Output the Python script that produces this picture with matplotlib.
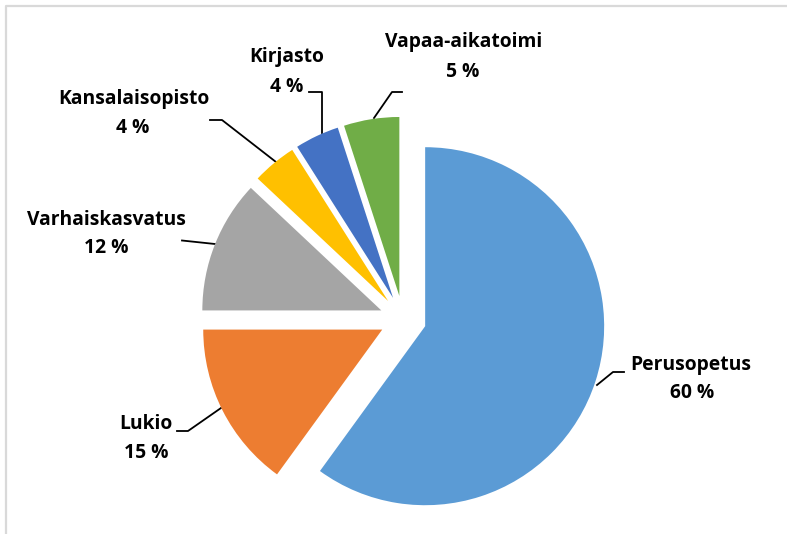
import matplotlib
matplotlib.use("Agg")
import matplotlib.pyplot as plt
from matplotlib.lines import Line2D

categories = ["Perusopetus", "Lukio", "Varhaiskasvatus", "Kansalaisopisto", "Kirjasto", "Vapaa-aikatoimi"]
values = [60, 15, 12, 4, 4, 5]
pct_labels = ["60 %", "15 %", "12 %", "4 %", "4 %", "5 %"]
colors = ["#5B9BD5", "#ED7D31", "#A5A5A5", "#FFC000", "#4472C4", "#70AD47"]

W, H = 787, 534
fig = plt.figure(figsize=(W / 100, H / 100), dpi=100)
ax = fig.add_axes([0, 0, 1, 1])
ax.set_xlim(0, W)
ax.set_ylim(H, 0)
ax.axis("off")

# frame (cropped chart area border)
ax.add_line(Line2D([6, 6, W + 5], [H + 5, 6, 6], color="#D9D9D9", lw=1.6))

# pie: own coordinate system in pixels (y up)
pax = fig.add_axes([0, 0, 1, 1])
cx, cy, r = 403, H - 319, 179
pax.pie(values, colors=colors, startangle=90, counterclock=False,
        explode=[23.3] * len(values), center=(cx, cy), radius=r,
        wedgeprops=dict(linewidth=0), frame=True)
pax.set_xlim(0, W)
pax.set_ylim(0, H)
pax.set_aspect("auto")
pax.axis("off")

font = dict(family="Open Sans", fontweight="bold", fontsize=13.9, color="black")

# label positions (image pixel coords, y down): name line center, pct line center
label_pos = [
    (691, 365, 692, 393),
    (146, 424, 146, 453),
    (106, 220, 106, 248),
    (134, 99, 133, 128),
    (287, 57, 287, 87),
    (464, 42, 463, 72),
]
leaders = [
    ([597, 613, 624], [385, 372, 372]),
    ([177, 188, 221], [431, 431, 408]),
    ([182, 215], [240.5, 244]),
    ([210, 222, 276], [120, 120, 162]),
    ([309, 322, 322], [92, 92, 133]),
    ([374, 392, 402], [118, 92, 92]),
]
for name, pct, (x1, y1, x2, y2), (lx, ly) in zip(categories, pct_labels, label_pos, leaders):
    ax.text(x1, y1, name, ha="center", va="center", **font)
    ax.text(x2, y2, pct, ha="center", va="center", **font)
    ax.add_line(Line2D(lx, ly, color="black", lw=1.3))

fig.savefig("out.png", dpi=100)
